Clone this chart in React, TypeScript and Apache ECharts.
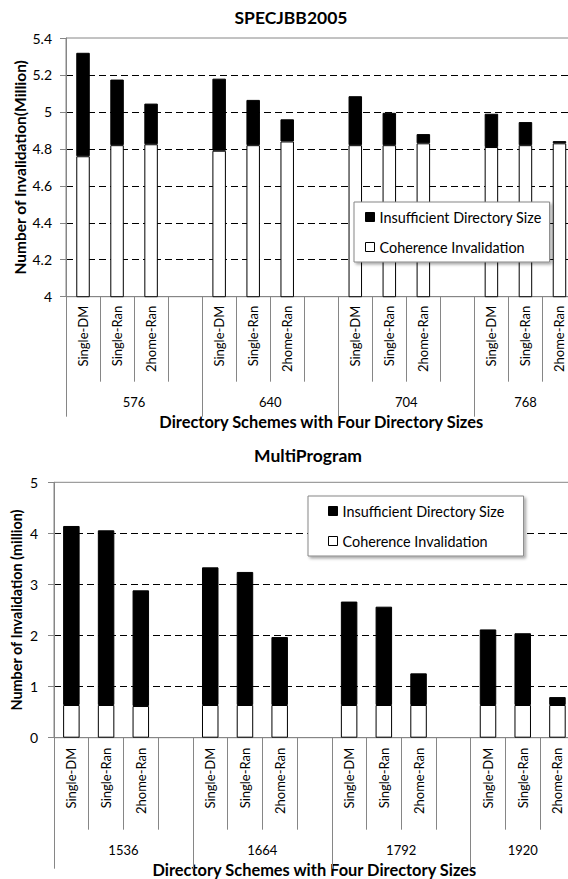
import React, { useEffect, useRef } from 'react';
import * as echarts from 'echarts';

// Directory schemes shown inside every size group
const schemes = ['Single-DM', 'Single-Ran', '2home-Ran'];

// SPECJBB2005 panel (values in millions)
const specSizes = ['576', '640', '704', '768'];
const specCoherence = [4.76, 4.82, 4.825, 4.79, 4.82, 4.84, 4.82, 4.82, 4.83, 4.81, 4.82, 4.83];
const specInsufficient = [0.56, 0.355, 0.22, 0.39, 0.245, 0.12, 0.265, 0.175, 0.05, 0.18, 0.125, 0.012];
const specYMin = 4;
const specYMax = 5.4;
const specYStep = 0.2;

// MultiProgram panel (values in millions)
const multiSizes = ['1536', '1664', '1792', '1920'];
const multiCoherence = [0.64, 0.64, 0.62, 0.64, 0.64, 0.64, 0.64, 0.64, 0.64, 0.64, 0.64, 0.64];
const multiInsufficient = [3.505, 3.42, 2.265, 2.695, 2.605, 1.33, 2.025, 1.925, 0.62, 1.48, 1.405, 0.155];
const multiYMin = 0;
const multiYMax = 5;
const multiYStep = 1;

const legendNames = ['Insufficient Directory Size', 'Coherence Invalidation'];

const FONT = 'Lato';
const AXIS_GRAY = '#868686';

// Spread grouped values over the category slots, leaving an empty slot between groups
function toSlots(values: number[], groups: number): (number | string)[] {
  const out: (number | string)[] = [];
  for (let g = 0; g < groups; g++) {
    for (let s = 0; s < schemes.length; s++) out.push(values[g * schemes.length + s]);
    if (g < groups - 1) out.push('-');
  }
  return out;
}

function slotLabels(groups: number): string[] {
  const out: string[] = [];
  for (let g = 0; g < groups; g++) {
    out.push(...schemes);
    if (g < groups - 1) out.push('');
  }
  return out;
}

interface PanelCfg {
  gridIndex: number;
  sizes: string[];
  yMin: number;
  yMax: number;
  yStep: number;
  yName: string;
  yNameSize: number;
  yNameGap: number;
  yLabelMargin: number;
  tickLen: number;
  sepLen: number;
  catMargin: number;
  groupMargin: number;
  xNameGap: number;
}

function buildPanel(c: PanelCfg) {
  const groups = c.sizes.length;
  const slots = slotLabels(groups);
  const n = slots.length;
  // centre of each size group in slot units
  const centers = c.sizes.map((_, g) => {
    const start = g * (schemes.length + 1);
    const end = Math.min(start + schemes.length + 1, n);
    return (start + end) / 2;
  });
  const groupLabel = (v: number) => {
    const i = centers.findIndex((x) => Math.abs(x - v) < 1e-6);
    return i >= 0 ? c.sizes[i] : '';
  };
  const xAxes = [
    {
      // scheme level: one slot per bar, blank slot between size groups
      type: 'category',
      gridIndex: c.gridIndex,
      position: 'bottom',
      data: slots,
      axisLine: { show: true, lineStyle: { color: AXIS_GRAY, width: 1 } },
      axisTick: { show: true, interval: 0, length: c.tickLen, lineStyle: { color: AXIS_GRAY } },
      axisLabel: {
        interval: 0,
        rotate: 90,
        margin: c.catMargin,
        fontFamily: FONT,
        fontSize: 13,
        color: '#000',
      },
      splitLine: { show: false },
    },
    {
      // long separators between size groups
      type: 'value',
      gridIndex: c.gridIndex,
      position: 'bottom',
      min: 0,
      max: n,
      interval: schemes.length + 1,
      axisLine: { show: false },
      axisTick: { show: true, length: c.sepLen, lineStyle: { color: AXIS_GRAY } },
      axisLabel: { show: false },
      splitLine: { show: false },
    },
    {
      // size level labels, centred under each group
      type: 'value',
      gridIndex: c.gridIndex,
      position: 'bottom',
      min: 0,
      max: n,
      interval: 0.5,
      axisLine: { show: false },
      axisTick: { show: false },
      axisLabel: {
        show: true,
        margin: c.groupMargin,
        fontFamily: FONT,
        fontSize: 13,
        lineHeight: 13,
        color: '#000',
        formatter: (v: number) => groupLabel(v),
      },
      splitLine: { show: false },
      name: 'Directory Schemes with Four Directory Sizes',
      nameLocation: 'middle',
      nameGap: c.xNameGap,
      nameMoveOverlap: false,
      nameTextStyle: { fontFamily: FONT, fontSize: 16.4, lineHeight: 17, fontWeight: 'bold', color: '#000' },
    },
  ];
  const yAxis = {
    type: 'value',
    gridIndex: c.gridIndex,
    min: c.yMin,
    max: c.yMax,
    interval: c.yStep,
    axisLine: { show: true, lineStyle: { color: AXIS_GRAY, width: 1 } },
    axisTick: { show: true, length: 6, lineStyle: { color: AXIS_GRAY } },
    axisLabel: { margin: c.yLabelMargin, fontFamily: FONT, fontSize: 14, color: '#000' },
    splitLine: {
      show: true,
      showMinLine: false,
      showMaxLine: false,
      lineStyle: { color: '#000', width: 1, type: [7, 4] },
    },
    name: c.yName,
    nameLocation: 'middle',
    nameGap: c.yNameGap,
    nameMoveOverlap: false,
    nameTextStyle: { fontFamily: FONT, fontSize: c.yNameSize, fontWeight: 'bold', color: '#000' },
  };
  return { xAxes, yAxis };
}

export default function App() {
  const ref = useRef<HTMLDivElement>(null);

  useEffect(() => {
    if (!ref.current) return;
    const chart = echarts.init(ref.current, null, { renderer: 'svg' });

    const top = buildPanel({
      gridIndex: 0,
      sizes: specSizes,
      yMin: specYMin,
      yMax: specYMax,
      yStep: specYStep,
      yName: 'Number of Invalidation(Million)',
      yNameSize: 15.5,
      yNameGap: 38,
      yLabelMargin: 14,
      tickLen: 85,
      sepLen: 120,
      catMargin: 9,
      groupMargin: 99,
      xNameGap: 116,
    });
    const bottom = buildPanel({
      gridIndex: 1,
      sizes: multiSizes,
      yMin: multiYMin,
      yMax: multiYMax,
      yStep: multiYStep,
      yName: 'Number of Invalidation (million)',
      yNameSize: 14.4,
      yNameGap: 31,
      yLabelMargin: 16,
      tickLen: 92,
      sepLen: 131,
      catMargin: 10,
      groupMargin: 106,
      xNameGap: 123,
    });

    const whiteStyle = { color: '#fff', borderColor: '#000', borderWidth: 1 };
    const blackStyle = { color: '#000', borderColor: '#000', borderWidth: 1 };

    const legendBase = {
      orient: 'vertical',
      icon: 'rect',
      itemWidth: 9,
      itemHeight: 9,
      itemGap: 14,
      backgroundColor: '#fff',
      borderColor: AXIS_GRAY,
      borderWidth: 1,
      shadowColor: 'rgba(0,0,0,0.35)',
      shadowBlur: 3,
      shadowOffsetX: 2,
      shadowOffsetY: 2,
      selectedMode: false,
      textStyle: { fontFamily: FONT, fontSize: 14.4, lineHeight: 16, color: '#000' },
      data: [
        { name: legendNames[0], itemStyle: blackStyle },
        { name: legendNames[1], itemStyle: whiteStyle },
      ],
    };

    const gridBase = {
      show: true,
      borderColor: AXIS_GRAY,
      borderWidth: 1,
      backgroundColor: 'transparent',
      containLabel: false,
      outerBoundsMode: 'none',
    };

    chart.setOption({
      animation: false,
      backgroundColor: '#fff',
      title: [
        {
          text: 'SPECJBB2005',
          left: 291,
          top: 8,
          padding: 0,
          textAlign: 'center',
          textStyle: { fontFamily: FONT, fontSize: 17.5, fontWeight: 'bold', color: '#000' },
        },
        {
          text: 'MultiProgram',
          left: 308,
          top: 446,
          padding: 0,
          textAlign: 'center',
          textStyle: { fontFamily: FONT, fontSize: 17.5, fontWeight: 'bold', color: '#000' },
        },
      ],
      legend: [
        { ...legendBase, left: 354, top: 202, padding: [7, 8, 7, 11] },
        { ...legendBase, left: 308, top: 496, padding: [7, 19, 7, 20] },
      ],
      grid: [
        { ...gridBase, left: 66, top: 38, width: 510.5, height: 258.7 },
        { ...gridBase, left: 54, top: 482.3, width: 520.8, height: 255.4 },
      ],
      xAxis: [...top.xAxes, ...bottom.xAxes],
      yAxis: [top.yAxis, bottom.yAxis],
      series: [
        {
          name: legendNames[1],
          type: 'bar',
          xAxisIndex: 0,
          yAxisIndex: 0,
          stack: 'spec',
          barWidth: 13.5,
          itemStyle: whiteStyle,
          data: toSlots(specCoherence, specSizes.length),
        },
        {
          name: legendNames[0],
          type: 'bar',
          xAxisIndex: 0,
          yAxisIndex: 0,
          stack: 'spec',
          barWidth: 13.5,
          itemStyle: blackStyle,
          data: toSlots(specInsufficient, specSizes.length),
        },
        {
          name: legendNames[1],
          type: 'bar',
          xAxisIndex: 3,
          yAxisIndex: 1,
          stack: 'multi',
          barWidth: 16.5,
          itemStyle: whiteStyle,
          data: toSlots(multiCoherence, multiSizes.length),
        },
        {
          name: legendNames[0],
          type: 'bar',
          xAxisIndex: 3,
          yAxisIndex: 1,
          stack: 'multi',
          barWidth: 16.5,
          itemStyle: blackStyle,
          data: toSlots(multiInsufficient, multiSizes.length),
        },
      ],
    });

    return () => chart.dispose();
  }, []);

  return (
    <div
      ref={ref}
      style={{ position: 'fixed', left: 0, top: 0, width: 568, height: 879, background: '#fff' }}
    />
  );
}
